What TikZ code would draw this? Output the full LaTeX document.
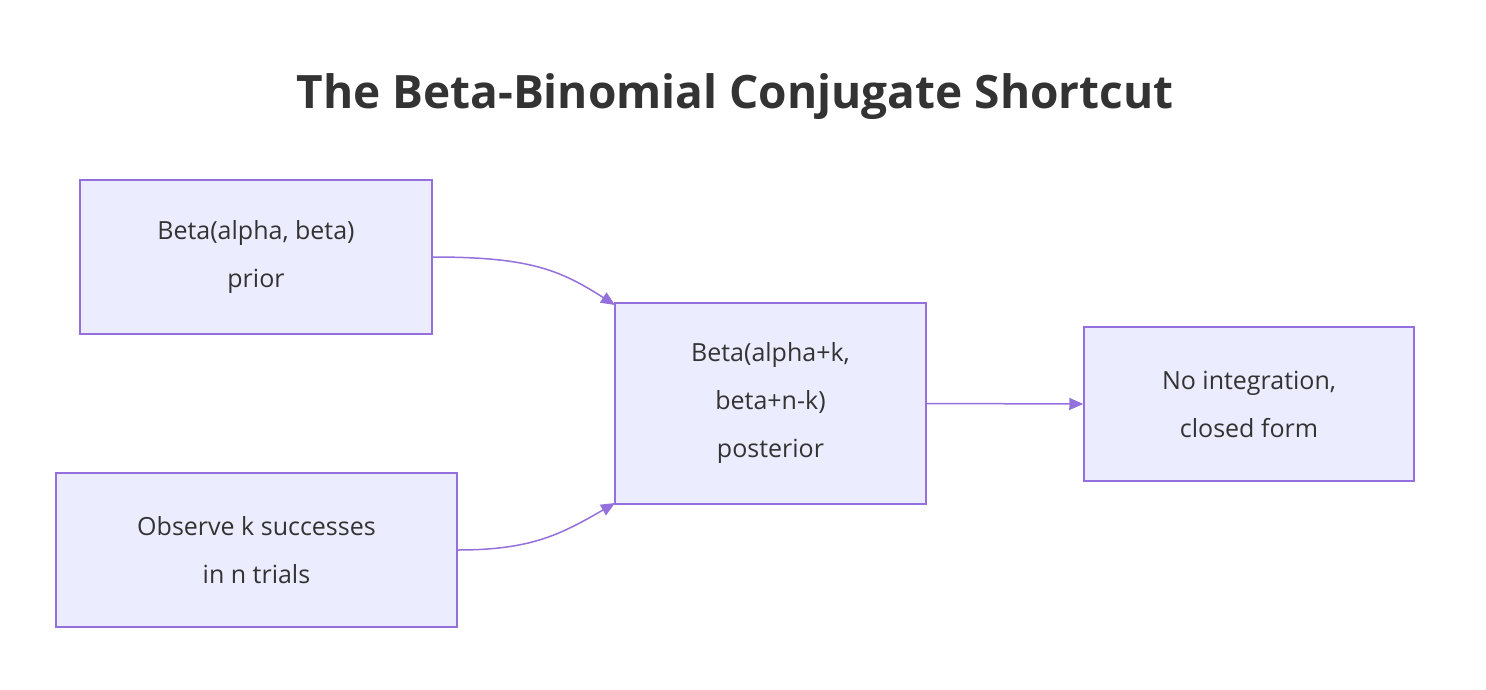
\documentclass[tikz,border=0pt]{standalone}
\usepackage{fontspec}
\setmainfont{Open Sans}
\usetikzlibrary{arrows.meta}
\definecolor{bfill}{HTML}{ECECFF}
\definecolor{bline}{HTML}{9370DB}
\definecolor{txt}{HTML}{333333}
\begin{document}
\begin{tikzpicture}[x=1pt,y=-1pt,
  box/.style={draw=bline,fill=bfill,line width=1.5pt,text=txt,align=center,font=\fontsize{25}{48}\selectfont,inner sep=0pt},
  link/.style={draw=bline,line width=1.5pt,-{Triangle[length=14pt,width=12pt]}}]
\useasboundingbox (0,0) rectangle (1486,690);
\node[text=txt,font=\fontsize{46}{54}\selectfont\bfseries] (t) at (735,97) {The Beta-Binomial Conjugate Shortcut};
\node[box,minimum width=352pt,minimum height=154pt] (a) at (256,257) {Beta(alpha, beta)\\prior};
\node[box,minimum width=401pt,minimum height=154pt] (b) at (256.5,550) {Observe k successes\\in n trials};
\node[box,minimum width=311pt,minimum height=201pt] (c) at (770.5,403.5) {Beta(alpha+k,\\beta+n-k)\\posterior};
\node[box,minimum width=330pt,minimum height=154pt] (d) at (1249,404) {No integration,\\closed form};
\coordinate (c1) at (615,305);
\coordinate (c2) at (615,503);
\draw[link] (a.east) .. controls (530,257) and (560,270) .. (c1);
\draw[link] (b.east) .. controls (530,550) and (560,535) .. (c2);
\draw[link] (c.east) -- (d.west);
\end{tikzpicture}
\end{document}
